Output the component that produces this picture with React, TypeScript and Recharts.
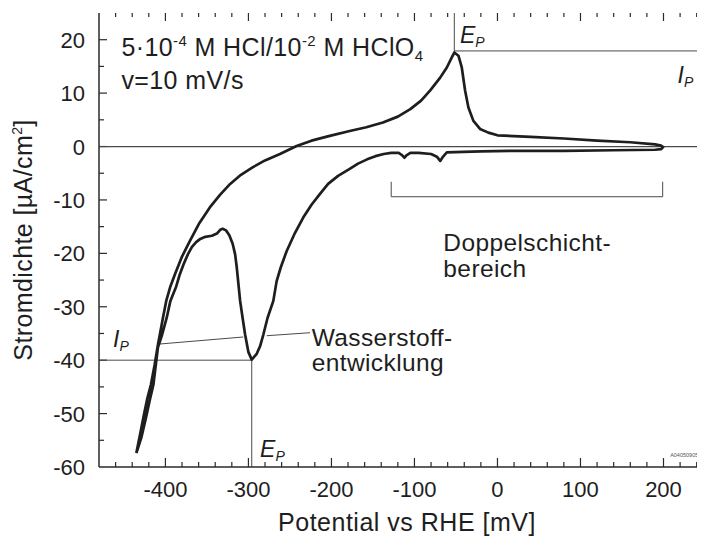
import { LineChart, Line, XAxis, YAxis, ReferenceLine, ReferenceDot } from "recharts";

// cyclic voltammogram, one closed loop (anodic sweep up, cathodic sweep back)
const sweepPotential = [
  -435, -430, -426, -422, -417.5, -413, -409, -403, -399, -394, -388.5, -380, -370.6, -359, -346.5,
  -334, -322, -309, -295, -280, -262, -242, -224, -202, -178, -158, -138, -120, -105, -92, -81,
  -69, -61, -55, -52, -47, -43, -39, -35, -29, -21, -11, 0, 40, 80, 120, 160, 190, 197, 199.5,
  197, 190, 140, 80, 20, -20, -41, -61, -66, -69, -73, -80, -95, -105, -110, -112, -115, -119,
  -128, -137, -147, -157, -168, -178, -192, -204, -214, -224, -234, -244, -254, -261, -266, -270,
  -277, -282, -286, -290, -296, -300, -304, -307, -310, -312, -314, -316, -319, -323, -327, -331,
  -334, -338, -344, -352, -358, -363, -368, -373, -378, -382.6, -387, -394, -398.5, -404.5, -409,
  -414.5, -419, -423.5, -429, -435,
];
const sweepCurrent = [
  -57.4, -53.5, -50.3, -47.3, -44.6, -40.9, -37.1, -32.1, -28.9, -26.2, -23.9, -20.6, -17.7, -14.3, -11.4,
  -9.0, -7.0, -5.3, -3.9, -2.6, -1.4, 0.1, 1.1, 2.0, 2.9, 3.6, 4.5, 5.6, 7.0, 8.6, 10.5,
  12.9, 14.8, 16.7, 17.6, 17.0, 14.8, 10.5, 7.3, 4.8, 3.3, 2.6, 2.1, 1.8, 1.5, 1.1, 0.8, 0.4, 0.2, -0.1,
  -0.5, -0.6, -0.7, -0.8, -0.8, -0.9, -1.0, -1.1, -2.0, -2.7, -1.9, -1.4, -1.2, -1.2, -1.7, -2.1, -1.6, -1.2,
  -1.2, -1.4, -1.8, -2.4, -3.2, -4.2, -5.5, -7.0, -8.9, -10.9, -13.3, -16.2, -19.6, -22.6, -25.2, -28.9,
  -32.1, -35.2, -37.4, -38.8, -39.9, -38.5, -35.2, -32.1, -28.9, -25.8, -22.7, -20.2, -18.2, -16.6, -15.7, -15.4,
  -15.6, -16.3, -16.7, -16.9, -17.3, -17.9, -18.8, -20.2, -22.0, -23.9, -26.2, -28.9, -32.1, -35.5, -37.6,
  -44.6, -47.6, -50.8, -54.5, -57.4,
];

const xTicks = [
  -460, -440, -420, -400, -380, -360, -340, -320, -300, -280, -260, -240, -220, -200, -180, -160,
  -140, -120, -100, -80, -60, -40, -20, 0, 20, 40, 60, 80, 100, 120, 140, 160, 180, 200, 220, 240,
];
const xTickLabels = [-400, -300, -200, -100, 0, 100, 200];
const yTicks = [-55, -50, -45, -40, -35, -30, -25, -20, -15, -10, -5, 0, 5, 10, 15, 20];
const yTickLabels = [-60, -50, -40, -30, -20, -10, 0, 10, 20];

const X_DOMAIN = [-480, 250];
const Y_DOMAIN = [-60, 25];

// annotation anchors (mV, µA/cm²)
const anodicPeak = { x: -52, y: 17.9 };
const hydrogenPeak = { x: -296, y: -40 };
const doubleLayer = [-128, 199];
const bracketLevel = -9.4;
const bracketTop = -6.6;
const leaderLeft = [
  { x: -406.5, y: -36.97 },
  { x: -306.2, y: -35.66 },
];
const leaderRight = [
  { x: -278, y: -35.42 },
  { x: -225.8, y: -34.86 },
];

const data = sweepPotential.map((x, i) => ({ x, y: sweepCurrent[i] }));

const FONT = '"Liberation Sans", Arial, Helvetica, sans-serif';
const INK = "#1e1e1e";
const AXIS = "#2a2a2a";
const THIN = "#4a4a4a";

const CHART_W = 700;
const CHART_H = 529;
const MARGIN = { top: 5, right: 3, bottom: 0, left: 0 };
const X_AXIS_H = 70;
const Y_AXIS_W = 91;
const PLOT_LEFT = MARGIN.left + Y_AXIS_W;
const PLOT_RIGHT = CHART_W - MARGIN.right;
const PLOT_TOP = MARGIN.top;
const PLOT_BOTTOM = CHART_H - MARGIN.bottom - X_AXIS_H;

// inward tick lengths, in axis units (px / scale)
const pxPerMV = (PLOT_RIGHT - PLOT_LEFT) / (X_DOMAIN[1] - X_DOMAIN[0]);
const pxPerUnit = (PLOT_BOTTOM - PLOT_TOP) / (Y_DOMAIN[1] - Y_DOMAIN[0]);
const vTick = (px: number) => px / pxPerUnit;
const hTick = (px: number) => px / pxPerMV;

const BottomLabel = ({ x, payload }: any) => {
  if (!xTickLabels.includes(payload.value)) return <g />;
  const cx = payload.coordinate ?? x;
  return (
    <text x={cx} y={PLOT_BOTTOM + 30} textAnchor="middle" fontSize={22} fontFamily={FONT} fill={INK}>
      {payload.value}
    </text>
  );
};

const LeftLabel = ({ y, payload }: any) => {
  if (!yTickLabels.includes(payload.value)) return <g />;
  const cy = payload.coordinate ?? y;
  return (
    <text x={PLOT_LEFT - 14} y={cy + 8} textAnchor="end" fontSize={22} fontFamily={FONT} fill={INK}>
      {payload.value}
    </text>
  );
};

const XTitle = () => (
  <text x={(PLOT_LEFT + PLOT_RIGHT) / 2 + 5} y={PLOT_BOTTOM + 64} textAnchor="middle" fontSize={25}
    letterSpacing={0.5} fontFamily={FONT} fill={INK}>
    Potential vs RHE [mV]
  </text>
);

const YTitle = () => {
  const cx = 24;
  const cy = (PLOT_TOP + PLOT_BOTTOM) / 2;
  return (
    <text x={cx} y={cy} transform={`rotate(-90, ${cx}, ${cy})`} textAnchor="middle" fontSize={25}
      letterSpacing={0.4} fontFamily={FONT} fill={INK}>
      Stromdichte [µA/cm<tspan fontSize={14} dy={-10}>2</tspan><tspan dy={10}>]</tspan>
    </text>
  );
};

const Peak = ({ cx, cy, letter }: any) => (
  <text x={cx} y={cy} fontSize={23} fontStyle="italic" fontFamily={FONT} fill={INK}>
    {letter}
    <tspan fontSize={14} dy={4}>P</tspan>
  </text>
);

const Conditions = ({ cx, cy }: any) => (
  <g fontFamily={FONT} fill={INK} fontSize={25} letterSpacing={0.4}>
    <text x={cx} y={cy}>
      5·10<tspan fontSize={15} dy={-10}>-4</tspan>
      <tspan dy={10}> M HCl/10</tspan>
      <tspan fontSize={15} dy={-10}>-2</tspan>
      <tspan dy={10}> M HClO</tspan>
      <tspan fontSize={15} dy={5}>4</tspan>
    </text>
    <text x={cx} y={cy + 33}>v=10 mV/s</text>
  </g>
);

const TwoLines = ({ cx, cy, first, second, gap }: any) => (
  <text x={cx} y={cy} fontSize={24.5} letterSpacing={0.4} fontFamily={FONT} fill={INK}>
    {first}
    <tspan x={cx} dy={gap}>{second}</tspan>
  </text>
);

const tickLine = (key: string, a: any, b: any) => (
  <ReferenceLine key={key} segment={[a, b]} stroke={AXIS} strokeWidth={1.2} ifOverflow="visible" />
);

export default function App() {
  const [x0, x1] = X_DOMAIN;
  const [y0, y1] = Y_DOMAIN;
  const frameTicks = [
    ...xTicks.map((v) => {
      const major = xTickLabels.includes(v);
      return [
        tickLine(`b${v}`, { x: v, y: y0 }, { x: v, y: y0 + vTick(major ? 9 : 5) }),
        tickLine(`t${v}`, { x: v, y: y1 }, { x: v, y: y1 - vTick(major ? 8 : 4) }),
      ];
    }),
    ...yTicks.map((v) => {
      const major = yTickLabels.includes(v);
      return [
        tickLine(`l${v}`, { x: x0, y: v }, { x: x0 + hTick(major ? 8 : 5), y: v }),
        tickLine(`r${v}`, { x: x1, y: v }, { x: x1 - hTick(major ? 8 : 4), y: v }),
      ];
    }),
  ].flat();

  return (
    <LineChart width={CHART_W} height={CHART_H} data={data} margin={MARGIN}>
      <XAxis type="number" dataKey="x" domain={X_DOMAIN} ticks={xTicks} interval={0}
        allowDataOverflow height={X_AXIS_H} tickSize={0} tickMargin={0} tickLine={false}
        axisLine={{ stroke: AXIS, strokeWidth: 1.5 }} tick={<BottomLabel />} label={<XTitle />} />
      <XAxis xAxisId="top" orientation="top" type="number" dataKey="x" domain={X_DOMAIN}
        allowDataOverflow height={0} tick={false} tickLine={false} axisLine={{ stroke: AXIS, strokeWidth: 1.5 }} />
      <YAxis type="number" domain={Y_DOMAIN} ticks={yTickLabels} interval={0} allowDataOverflow
        width={Y_AXIS_W} tickSize={0} tickMargin={0} tickLine={false}
        axisLine={{ stroke: AXIS, strokeWidth: 1.5 }} tick={<LeftLabel />} label={<YTitle />} />
      <YAxis yAxisId="right" orientation="right" type="number" domain={Y_DOMAIN} allowDataOverflow
        width={0} tick={false} tickLine={false} axisLine={{ stroke: AXIS, strokeWidth: 1.5 }} />

      {frameTicks}

      <ReferenceLine y={0} stroke={THIN} strokeWidth={1.3} />
      <ReferenceLine segment={[{ x: anodicPeak.x, y: y1 }, anodicPeak]} stroke={THIN} ifOverflow="visible" />
      <ReferenceLine segment={[anodicPeak, { x: x1, y: anodicPeak.y }]} stroke={THIN} ifOverflow="visible" />
      <ReferenceLine segment={[{ x: x0, y: hydrogenPeak.y }, hydrogenPeak]} stroke={THIN} ifOverflow="visible" />
      <ReferenceLine segment={[hydrogenPeak, { x: hydrogenPeak.x, y: y0 }]} stroke={THIN} ifOverflow="visible" />
      <ReferenceLine segment={[{ x: doubleLayer[0], y: bracketLevel }, { x: doubleLayer[1], y: bracketLevel }]}
        stroke={THIN} ifOverflow="visible" />
      <ReferenceLine segment={[{ x: doubleLayer[0], y: bracketLevel }, { x: doubleLayer[0], y: bracketTop }]}
        stroke={THIN} ifOverflow="visible" />
      <ReferenceLine segment={[{ x: doubleLayer[1], y: bracketLevel }, { x: doubleLayer[1], y: bracketTop }]}
        stroke={THIN} ifOverflow="visible" />
      <ReferenceLine segment={leaderLeft} stroke={THIN} ifOverflow="visible" />
      <ReferenceLine segment={leaderRight} stroke={THIN} ifOverflow="visible" />

      <Line type="linear" dataKey="y" stroke={INK} strokeWidth={2.7} dot={false} isAnimationActive={false}
        strokeLinejoin="round" />

      <ReferenceDot x={-453} y={16.95} r={0} ifOverflow="visible" shape={(p: any) => <Conditions cx={p.cx} cy={p.cy} />} />
      <ReferenceDot x={-45.1} y={19.3} r={0} ifOverflow="visible" shape={(p: any) => <Peak cx={p.cx} cy={p.cy} letter="E" />} />
      <ReferenceDot x={217} y={11.9} r={0} ifOverflow="visible" shape={(p: any) => <Peak cx={p.cx} cy={p.cy} letter="I" />} />
      <ReferenceDot x={-463} y={-37.5} r={0} ifOverflow="visible" shape={(p: any) => <Peak cx={p.cx} cy={p.cy} letter="I" />} />
      <ReferenceDot x={-286} y={-58.1} r={0} ifOverflow="visible" shape={(p: any) => <Peak cx={p.cx} cy={p.cy} letter="E" />} />
      <ReferenceDot x={-223.8} y={-37.3} r={0} ifOverflow="visible"
        shape={(p: any) => <TwoLines cx={p.cx} cy={p.cy} first="Wasserstoff-" second="entwicklung" gap={25} />} />
      <ReferenceDot x={-65.2} y={-19.5} r={0} ifOverflow="visible"
        shape={(p: any) => <TwoLines cx={p.cx} cy={p.cy} first="Doppelschicht-" second="bereich" gap={26} />} />
      <ReferenceDot x={208} y={-58.2} r={0} ifOverflow="visible"
        shape={(p: any) => (
          <text x={p.cx} y={p.cy} fontSize={5.5} fontFamily={FONT} fill="#555">A04050905</text>
        )} />
    </LineChart>
  );
}
